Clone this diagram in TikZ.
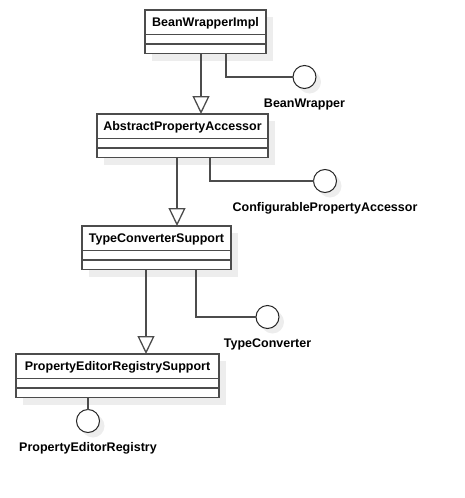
\documentclass[tikz,border=0pt]{standalone}
\usepackage{fontspec}
\setmainfont{Liberation Sans}
\usetikzlibrary{positioning,arrows.meta,shadows}

\tikzset{
  boxshadow/.style={drop shadow={shadow xshift=7pt,shadow yshift=-7pt,fill=black!7,opacity=1}},
  classname/.style={draw=black!70, line width=1.3pt, fill=white, outer sep=0pt,
    minimum height=24.5pt, text height=9pt, text depth=0pt,
    font=\bfseries\fontsize{12.5}{14}\selectfont, boxshadow},
  compart/.style={draw=black!70, line width=1.3pt, fill=white, outer sep=0pt,
    inner sep=0pt, minimum height=9.5pt, boxshadow},
  iface/.style={circle, draw=black!85, line width=1pt, fill=white, inner sep=0pt,
    outer sep=0pt, minimum size=23pt,
    drop shadow={shadow xshift=5pt,shadow yshift=-5pt,fill=black!7,opacity=1}},
  ifacename/.style={inner sep=0pt, text height=9pt, text depth=0pt,
    font=\bfseries\fontsize{12.5}{14}\selectfont},
  generalize/.style={draw=black!70, line width=1.3pt, -{Triangle[open,length=18pt,width=17pt]}},
  realize/.style={draw=black!70, line width=1.3pt},
}

\begin{document}
\begin{tikzpicture}[x=1pt,y=-1pt]
  \useasboundingbox (0,0) rectangle (465,498);

  % classes
  \node (bwi) [classname, minimum width=121pt] at (205.5,22.25) {BeanWrapperImpl};
  \node (bwi1) [compart, minimum width=121pt, below=0pt of bwi] {};
  \node (bwi2) [compart, minimum width=121pt, below=0pt of bwi1] {};

  \node (apa) [classname, minimum width=171pt] at (182.5,126.25) {AbstractPropertyAccessor};
  \node (apa1) [compart, minimum width=171pt, below=0pt of apa] {};
  \node (apa2) [compart, minimum width=171pt, below=0pt of apa1] {};

  \node (tcs) [classname, minimum width=149pt] at (156.5,238.25) {TypeConverterSupport};
  \node (tcs1) [compart, minimum width=149pt, below=0pt of tcs] {};
  \node (tcs2) [compart, minimum width=149pt, below=0pt of tcs1] {};

  \node (pers) [classname, minimum width=203pt] at (117.5,366.25) {PropertyEditorRegistrySupport};
  \node (pers1) [compart, minimum width=203pt, below=0pt of pers] {};
  \node (pers2) [compart, minimum width=203pt, below=0pt of pers1] {};

  % interfaces
  \node (bw) [iface] at (304.5,77) {};
  \node (bwl) [ifacename, below=10pt of bw] {BeanWrapper};
  \node (cpa) [iface] at (325,181) {};
  \node (cpal) [ifacename, below=10pt of cpa] {ConfigurablePropertyAccessor};
  \node (tc) [iface] at (267.5,317) {};
  \node (tcl) [ifacename, below=10pt of tc] {TypeConverter};
  \node (per) [iface] at (88,421) {};
  \node (perl) [ifacename, below=10pt of per] {PropertyEditorRegistry};

  % inheritance
  \draw [generalize] ([xshift=-4.5pt]bwi2.south) -- ([xshift=-4.5pt]bwi2.south |- apa.north);
  \draw [generalize] ([xshift=-5.5pt]apa2.south) -- ([xshift=-5.5pt]apa2.south |- tcs.north);
  \draw [generalize] ([xshift=-10.5pt]tcs2.south) -- ([xshift=-10.5pt]tcs2.south |- pers.north);

  % realization
  \draw [realize] ([xshift=20.5pt]bwi2.south) |- (bw);
  \draw [realize] ([xshift=27.5pt]apa2.south) |- (cpa);
  \draw [realize] ([xshift=39.5pt]tcs2.south) |- (tc);
  \draw [realize] (pers2.south -| per) -- (per);

\end{tikzpicture}
\end{document}
